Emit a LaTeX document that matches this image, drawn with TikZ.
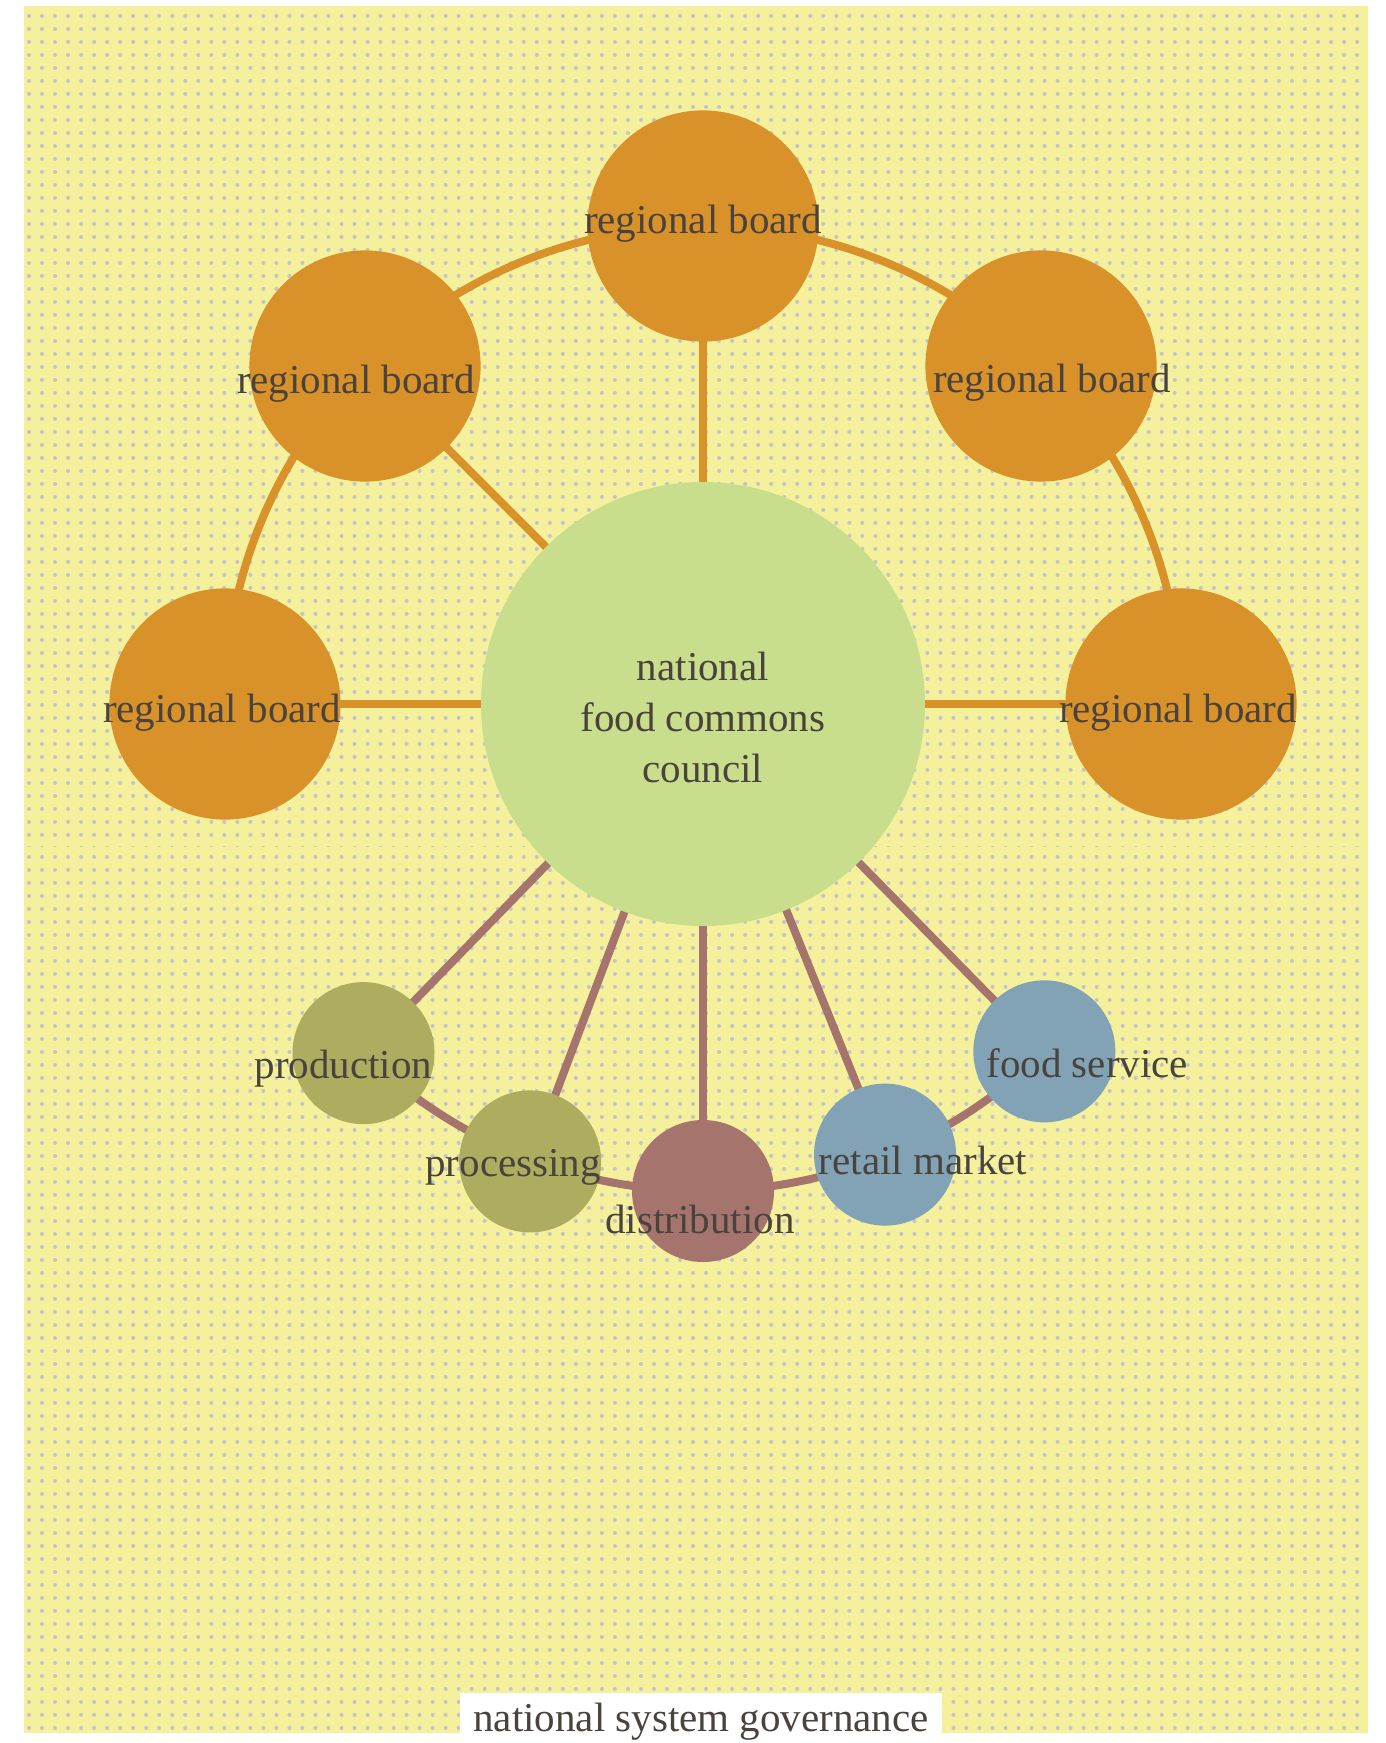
\documentclass[tikz,border=0pt]{standalone}
\usepackage{fontspec}
\setmainfont{Liberation Serif}
\usetikzlibrary{calc}
\definecolor{bgyellow}{HTML}{F5F09B}
\definecolor{dotgray}{HTML}{C5C3C9}
\definecolor{orangec}{HTML}{D9922A}
\definecolor{councilc}{HTML}{C9DE8C}
\definecolor{olivec}{HTML}{AEAC5E}
\definecolor{brownc}{HTML}{A5756D}
\definecolor{bluec}{HTML}{82A3B6}
\definecolor{txtc}{HTML}{4A433D}
\tikzset{
  orangeline/.style={draw=orangec, line width=4pt},
  brownline/.style={draw=brownc, line width=4pt},
  dotrow/.style={draw=dotgray, line width=2pt, line cap=round, dash pattern=on 0.01pt off 6.5pt},
  bigdisc/.style={circle, fill=councilc, minimum size=222pt, inner sep=0pt},
  regdisc/.style={circle, fill=orangec, minimum size=115.6pt, inner sep=0pt},
  smalldisc/.style={circle, minimum size=71pt, inner sep=0pt},
  lbl/.style={text=txtc, inner sep=0pt, font=\fontsize{20.5}{25.5}\selectfont, align=center}
}
\begin{document}
\begin{tikzpicture}[x=0.5pt,y=-0.5pt]
\useasboundingbox (0,0) rectangle (1385,1743);
% background
\fill[bgyellow] (24,6) rectangle (1368,1733);
\begin{scope}
  \clip (24,6) rectangle (1368,846);
  \foreach \j in {0,...,64} {
    \draw[dotrow] (29,15.7+13*\j) -- (1375,15.7+13*\j);
  }
\end{scope}
\begin{scope}
  \clip (24,846) rectangle (1368,1733);
  \foreach \j in {0,...,67} {
    \draw[dotrow] (29,856.7+13*\j) -- (1375,856.7+13*\j);
  }
\end{scope}
% node positions
\coordinate (cc) at (703,704);
\coordinate (ptop) at ($(cc)+(-90:478)$);
\coordinate (pul) at ($(cc)+(-135:478)$);
\coordinate (pur) at ($(cc)+(-45:478)$);
\coordinate (pleft) at ($(cc)+(180:478)$);
\coordinate (pright) at ($(cc)+(0:478)$);
\coordinate (pprod) at ($(cc)+(134.2:487)$);
\coordinate (pproc) at ($(cc)+(110.7:489)$);
\coordinate (pdist) at ($(cc)+(90:487)$);
\coordinate (pret) at ($(cc)+(68:486)$);
\coordinate (pfood) at ($(cc)+(45.5:487)$);
% connectors
\draw[orangeline] (ptop) arc[start angle=-90, end angle=-135, radius=478];
\draw[orangeline] (ptop) arc[start angle=-90, end angle=-45, radius=478];
\draw[orangeline] (pul) arc[start angle=-135, end angle=-180, radius=478];
\draw[orangeline] (pur) arc[start angle=-45, end angle=0, radius=478];
\draw[orangeline] (cc) -- (ptop);
\draw[orangeline] (cc) -- (pul);
\draw[orangeline] (cc) -- (pleft);
\draw[orangeline] (cc) -- (pright);
\draw[brownline] (pprod) arc[start angle=134.2, end angle=45.5, radius=487];
\foreach \p in {pprod,pproc,pdist,pret,pfood} {
  \draw[brownline] (cc) -- (\p);
}
% discs
\node[bigdisc] (council) at (cc) {};
\node[regdisc] (rtop) at (ptop) {};
\node[regdisc] (rul) at (pul) {};
\node[regdisc] (rur) at (pur) {};
\node[regdisc] (rleft) at (pleft) {};
\node[regdisc] (rright) at (pright) {};
\node[smalldisc, fill=olivec] (prod) at (pprod) {};
\node[smalldisc, fill=olivec] (proc) at (pproc) {};
\node[smalldisc, fill=brownc] (dist) at (pdist) {};
\node[smalldisc, fill=bluec] (ret) at (pret) {};
\node[smalldisc, fill=bluec] (food) at (pfood) {};
% labels
\node[lbl] (lcouncil) at ([shift={(0,13)}]council.center) {national\\food commons\\council};
\node[lbl] (ltop) at ([shift={(0,-2)}]rtop.center) {regional board};
\node[lbl] (lul) at ([shift={(-9,18)}]rul.center) {regional board};
\node[lbl] (lur) at ([shift={(11,17)}]rur.center) {regional board};
\node[lbl] (lleft) at ([shift={(-3,9)}]rleft.center) {regional board};
\node[lbl] (lright) at ([shift={(-3,9)}]rright.center) {regional board};
\node[lbl] (lprod) at ([shift={(-20,16)}]prod.center) {production};
\node[lbl] (lproc) at ([shift={(-17,6)}]proc.center) {processing};
\node[lbl] (ldist) at ([shift={(-3,28)}]dist.center) {distribution};
\node[lbl] (lret) at ([shift={(38,6)}]ret.center) {retail market};
\node[lbl] (lfood) at ([shift={(43,12)}]food.center) {food service};
% title
\node[fill=white, text=txtc, minimum width=241pt, minimum height=29pt, inner sep=0pt,
      font=\fontsize{20.5}{25.5}\selectfont] (title) at (701,1722) {national system governance};
\end{tikzpicture}
\end{document}
